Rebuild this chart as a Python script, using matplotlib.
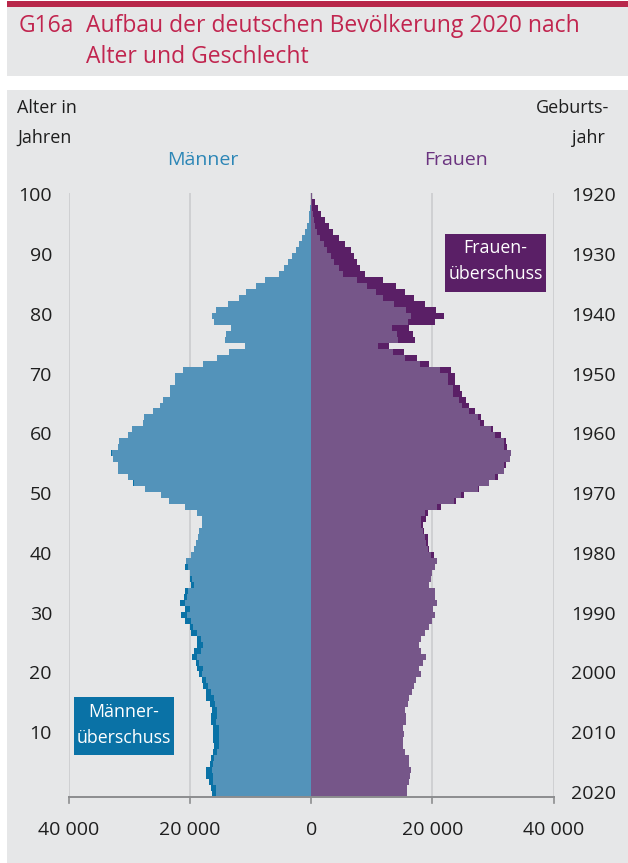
import matplotlib
matplotlib.use("Agg")
import matplotlib.pyplot as plt
from matplotlib.patches import Rectangle
import numpy as np

plt.rcParams['font.family'] = ['Open Sans', 'DejaVu Sans']

# ---------------- data (values in persons, ages 0..100) ----------------
ages = list(range(0, 101))

male_k = [
    16.4, 16.6, 16.9, 17.3, 17.4, 16.8, 16.6, 16.3, 16.1, 16.2,   # 0-9
    16.3, 16.2, 16.6, 16.6, 16.4, 16.7, 17.3, 17.4, 17.8, 18.1,   # 10-19
    18.6, 18.8, 19.1, 19.7, 19.4, 18.8, 18.8, 19.9, 20.1, 20.8,   # 20-29
    21.5, 20.8, 21.6, 21.0, 20.8, 19.9, 20.0, 20.1, 20.8, 20.7,   # 30-39
    19.8, 19.3, 19.0, 18.7, 18.5, 18.1, 18.1, 18.8, 20.8, 23.5,   # 40-49
    24.8, 27.5, 29.4, 30.3, 31.9, 31.9, 32.8, 33.0, 31.9, 31.8,   # 50-59
    30.3, 29.6, 27.8, 27.6, 26.1, 24.9, 24.4, 23.4, 23.4, 22.5,   # 60-69
    22.5, 21.2, 17.9, 15.5, 13.5, 11.0, 14.3, 14.1, 13.3, 16.0,   # 70-79
    16.4, 15.7, 13.7, 11.9, 10.7, 9.2, 7.6, 5.3, 4.5, 3.8,        # 80-89
    3.2, 2.6, 2.1, 1.5, 1.0, 0.7, 0.45, 0.3, 0.2, 0.1,            # 90-99
    0.05,                                                          # 100
]
female_k = [
    15.8, 15.8, 16.2, 16.3, 16.4, 16.2, 16.1, 15.5, 15.2, 15.2,   # 0-9
    15.3, 15.2, 15.7, 15.6, 15.5, 15.9, 16.1, 16.6, 17.0, 17.3,   # 10-19
    18.1, 17.8, 18.5, 18.9, 18.2, 17.8, 18.2, 18.8, 19.5, 19.9,   # 20-29
    20.5, 20.1, 20.8, 20.5, 20.4, 19.4, 19.7, 20.0, 20.4, 20.7,   # 30-39
    20.2, 19.5, 19.2, 19.2, 18.6, 18.5, 18.9, 19.3, 21.5, 23.9,   # 40-49
    25.3, 27.7, 29.3, 30.8, 31.9, 32.2, 32.8, 32.9, 32.3, 32.2,   # 50-59
    31.3, 30.0, 28.5, 28.1, 27.0, 26.0, 25.6, 24.9, 24.5, 23.8,   # 60-69
    23.8, 23.0, 19.5, 17.4, 15.3, 12.9, 17.2, 16.8, 16.2, 20.4,   # 70-79
    21.9, 20.6, 18.7, 17.0, 15.5, 14.0, 11.9, 8.9, 8.0, 7.5,      # 80-89
    7.1, 6.5, 5.6, 4.5, 3.6, 2.9, 2.2, 1.6, 1.1, 0.55,            # 90-99
    0.1,                                                           # 100
]
male = np.array(male_k) * 1000
female = np.array(female_k) * 1000

age_ticks = [10, 20, 30, 40, 50, 60, 70, 80, 90, 100]
year_ticks = [0, 10, 20, 30, 40, 50, 60, 70, 80, 90, 100]
year_labels = ['2020', '2010', '2000', '1990', '1980', '1970', '1960', '1950', '1940', '1930', '1920']
x_ticks = [-40000, -20000, 0, 20000, 40000]
x_labels = ['40 000', '20 000', '0', '20 000', '40 000']

# ---------------- colours ----------------
BG = '#E6E7E8'
LIGHT_BLUE = '#5393BA'
DARK_BLUE = '#0A72A6'
LIGHT_PURPLE = '#765689'
DARK_PURPLE = '#5A1F66'
TITLE_RED = '#C1254F'
BAR_RED = '#B8274A'
TXT = '#1E1E1E'

W, H = 628, 863
fig = plt.figure(figsize=(W / 100, H / 100), dpi=100)
fig.patch.set_facecolor('white')

def fr(x0, y0, x1, y1):
    """pixel box (top-left origin) -> figure fraction rect"""
    return (x0 / W, 1 - y1 / H, (x1 - x0) / W, (y1 - y0) / H)

def add_rect(x0, y0, x1, y1, color, z):
    r = fr(x0, y0, x1, y1)
    fig.patches.append(Rectangle((r[0], r[1]), r[2], r[3], transform=fig.transFigure,
                                 facecolor=color, edgecolor='none', zorder=z))

# title area and chart panel (behind everything)
add_rect(7, 1, W, 7, BAR_RED, -10)
add_rect(7, 7, W, 76, BG, -10)
add_rect(7, 90, W, H, BG, -10)

fig.text(19 / W, 1 - 26 / H, 'G16a', color=TITLE_RED, fontsize=16.5,
         ha='left', va='center')
fig.text(86 / W, 1 - 26 / H, 'Aufbau der deutschen Bevölkerung 2020 nach', color=TITLE_RED,
         fontsize=16.5, ha='left', va='center')
fig.text(86 / W, 1 - 57 / H, 'Alter und Geschlecht', color=TITLE_RED,
         fontsize=16.5, ha='left', va='center')

# main axes
x0p, x1p = 69, 553.5
ytop, ybot = 193.3, 797
ax = fig.add_axes(fr(x0p, ytop, x1p, ybot))
ax.set_facecolor('none')
ax.set_zorder(1)
ax.set_xlim(-40000, 40000)
ax.set_ylim(-0.5, 100.5)
for s in ax.spines.values():
    s.set_visible(False)
ax.set_xticks([])
ax.set_yticks([])

# gridlines
for xv in [-40000, -20000, 20000, 40000]:
    ax.axvline(xv, color='#C9CACC', lw=1.1, zorder=1)
ax.axvline(0, color='#707070', lw=1.0, zorder=1)

common = np.minimum(male, female)
male_extra = np.clip(male - female, 0, None)
female_extra = np.clip(female - male, 0, None)

ax.barh(ages, -common, height=1.0, color=LIGHT_BLUE, edgecolor='none', zorder=2)
ax.barh(ages, -male_extra, left=-common, height=1.0, color=DARK_BLUE, edgecolor='none', zorder=2)
ax.barh(ages, common, height=1.0, color=LIGHT_PURPLE, edgecolor='none', zorder=2)
ax.barh(ages, female_extra, left=common, height=1.0, color=DARK_PURPLE, edgecolor='none', zorder=2)

# bottom axis with ticks
ax.plot([-40000, 40000], [-0.5, -0.5], color='#8C8D8F', lw=1.4, clip_on=False, zorder=3)
tick_len = 6 / ((ybot - ytop) / 101.0)
for xv in x_ticks:
    ax.plot([xv, xv], [-0.5, -0.5 - tick_len], color='#8C8D8F', lw=1.2, clip_on=False, zorder=3)

ytr = ax.get_yaxis_transform()
xtr = ax.get_xaxis_transform()
axw = x1p - x0p
axh = ybot - ytop

TICK_FS = 14
for a in age_ticks:
    ax.text((52 - x0p) / axw, a, str(a), transform=ytr, ha='right', va='center',
            fontsize=TICK_FS, color=TXT)
for a, lab in zip(year_ticks, year_labels):
    ax.text((571 - x0p) / axw, a, lab, transform=ytr, ha='left', va='center',
            fontsize=TICK_FS, color=TXT)
for xv, lab in zip(x_ticks, x_labels):
    ax.text(xv, (ybot - 830) / axh, lab, transform=xtr, ha='center', va='center',
            fontsize=TICK_FS, color=TXT)

# header labels
fig.text(17 / W, 1 - 108 / H, 'Alter in', fontsize=13, color=TXT, ha='left', va='center')
fig.text(17 / W, 1 - 138 / H, 'Jahren', fontsize=13, color=TXT, ha='left', va='center')
fig.text(609 / W, 1 - 108 / H, 'Geburts-', fontsize=13, color=TXT, ha='right', va='center')
fig.text(605 / W, 1 - 138 / H, 'jahr', fontsize=13, color=TXT, ha='right', va='center')
fig.text(203 / W, 1 - 160 / H, 'Männer', fontsize=14, color='#2C86B6', ha='center', va='center')
fig.text(456 / W, 1 - 160 / H, 'Frauen', fontsize=14, color='#6B3480', ha='center', va='center')

# annotation boxes
add_rect(445, 234, 546, 292, DARK_PURPLE, 5)
fig.text(495.5 / W, 1 - 248 / H, 'Frauen-', fontsize=12.8, color='white', ha='center', va='center', zorder=6)
fig.text(495.5 / W, 1 - 274 / H, 'überschuss', fontsize=12.8, color='white', ha='center', va='center', zorder=6)

add_rect(74, 697, 174, 755, DARK_BLUE, 5)
fig.text(124 / W, 1 - 712 / H, 'Männer-', fontsize=12.8, color='white', ha='center', va='center', zorder=6)
fig.text(124 / W, 1 - 738 / H, 'überschuss', fontsize=12.8, color='white', ha='center', va='center', zorder=6)

fig.savefig('out.png', dpi=100, facecolor=fig.get_facecolor())
